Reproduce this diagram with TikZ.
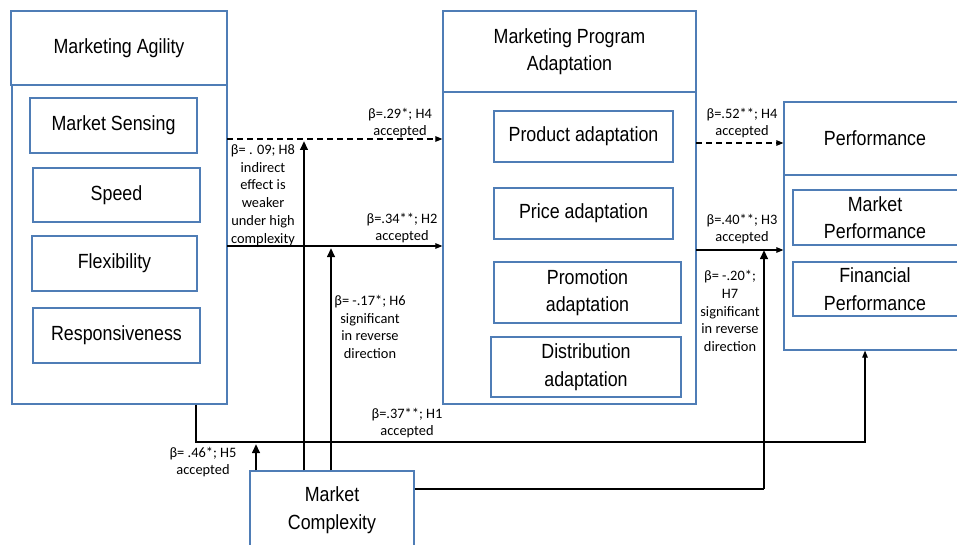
\documentclass[tikz,border=0pt]{standalone}
\usepackage{fontspec}
\setmainfont{Liberation Sans}
\newfontfamily\bigfont[FakeStretch=0.87]{Liberation Sans}
\newfontfamily\labfont{Carlito}
\usetikzlibrary{arrows.meta,calc}
\definecolor{bblue}{RGB}{79,125,182}
\begin{document}
\begin{tikzpicture}[x=1pt,y=-1pt,
  bigtext/.style={font=\bigfont\fontsize{20.5}{27.5}\selectfont,align=center},
  boxx/.style={draw=bblue,line width=1.2pt,inner sep=0pt,bigtext},
  lab/.style={font=\labfont\fontsize{14.4}{17.8}\selectfont,align=center,inner sep=0pt},
  thin/.style={line width=1.1pt,-{Triangle[length=7pt,width=5.5pt]}},
  thick/.style={line width=2.6pt,-{Triangle[length=9pt,width=7.5pt]}},
  dsh/.style={dash pattern=on 6pt off 4pt}]
\useasboundingbox (0,0) rectangle (957,545);
\fill[white] (0,0) rectangle (957,545);
\clip (0,0) rectangle (957,545);
% boxes: corner to corner
\newcommand{\bx}[6]{\node[boxx,minimum width=#4-#2,minimum height=#5-#3] (#1) at ({(#2+#4)/2},{(#3+#5)/2}) {#6};}
% Marketing agility
\bx{aghead}{11}{11}{227}{85}{Marketing Agility}
\bx{agbody}{12}{85}{227}{404}{}
\bx{ms}{30}{98}{197}{153}{Market Sensing}
\bx{sp}{33}{168}{200}{222}{Speed}
\bx{fl}{32}{236}{197}{291}{Flexibility}
\bx{rs}{33}{308}{200}{363}{Responsiveness}
% Marketing program adaptation
\bx{mpahead}{443}{11}{696}{92}{Marketing Program\\Adaptation}
\bx{mpabody}{443}{92}{696}{404}{}
\bx{prod}{494}{111}{673}{162}{Product adaptation}
\bx{price}{494}{188}{673}{239}{Price adaptation}
\bx{promo}{494}{262}{681}{323}{Promotion\\adaptation}
\bx{dist}{491}{337}{681}{397}{Distribution\\adaptation}
% Performance
\bx{perfhead}{784}{102}{966}{175}{}
\bx{perfbody}{784}{175}{966}{350}{}
\bx{mp}{793}{190}{966}{245}{}
\bx{fp}{793}{262}{966}{316}{}
\node[bigtext] (tperf) at (875,138.5) {Performance};
\node[bigtext] (tmp) at (875,217.5) {Market\\Performance};
\node[bigtext] (tfp) at (875,289) {Financial\\Performance};
% Market complexity
\bx{mc}{250}{471}{414}{562}{}
\node[bigtext] (tmc) at (332,510) {Market\\Complexity};
% coordinates
\coordinate (h4l) at (227,139);
\coordinate (h2l) at (227,246);
\coordinate (h4r) at (696,143);
\coordinate (h3r) at (696,250);
\coordinate (h1a) at (196,442);
\coordinate (h1b) at (865,442);
\coordinate (h7a) at (764,489);
% arrows
\draw[thin,dsh] (h4l) -- (mpabody.west |- h4l);
\draw[thin] (h2l) -- (mpabody.west |- h2l);
\draw[thin,dsh] (h4r) -- (perfhead.west |- h4r);
\draw[thin] (h3r) -- (perfbody.west |- h3r);
\draw[thin] (agbody.south -| h1a) -- (h1a) -- (h1b) -- (perfbody.south -| h1b);
\draw[line width=1.2pt] (mc.east |- h7a) -- (h7a);
\draw[thick] (h7a) -- (h7a |- h3r);
\draw[thick] (mc.north -| 256,0) -- (256,444);
\draw[thick] (mc.north -| 304,0) -- (304,141);
\draw[thick] (mc.north -| 331,0) -- (331,248);
% labels
\node[lab] (l4l) at (400,123) {β=.29*; H4\\accepted};
\node[lab] (l2) at (402,228) {β=.34**; H2\\accepted};
\node[lab] (l8) at (263,195) {β= . 09; H8\\indirect\\effect is\\weaker\\under high\\complexity};
\node[lab] (l6) at (370,327) {β= -.17*; H6\\significant\\in reverse\\direction};
\node[lab] (l5) at (203,462) {β= .46*; H5\\accepted};
\node[lab] (l1) at (407,423) {β=.37**; H1\\accepted};
\node[lab] (l4r) at (742,123) {β=.52**; H4\\accepted};
\node[lab] (l3) at (742,229) {β=.40**; H3\\accepted};
\node[lab] (l7) at (730,311) {β= -.20*;\\H7\\significant\\in reverse\\direction};
\end{tikzpicture}
\end{document}
